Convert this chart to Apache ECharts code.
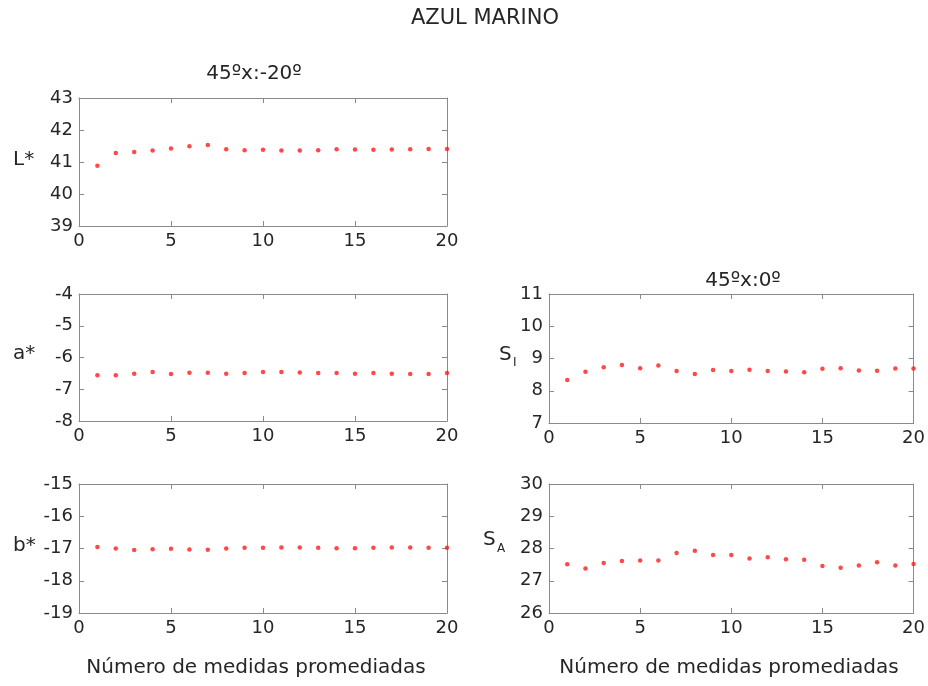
<!DOCTYPE html>
<html>
<head>
<meta charset="utf-8">
<script src="https://cdn.jsdelivr.net/npm/echarts@6/dist/echarts.min.js"></script>
<style>html,body{margin:0;padding:0;background:#fff}#c{width:928px;height:686px}</style>
</head>
<body>
<div id="c"></div>
<script>
const xValues = [1,2,3,4,5,6,7,8,9,10,11,12,13,14,15,16,17,18,19,20];
const Lstar = [40.88,41.28,41.31,41.36,41.42,41.49,41.53,41.40,41.37,41.38,41.36,41.36,41.37,41.40,41.39,41.38,41.39,41.40,41.41,41.41];
const astar = [-6.56,-6.56,-6.51,-6.46,-6.52,-6.48,-6.48,-6.51,-6.49,-6.46,-6.46,-6.47,-6.49,-6.49,-6.51,-6.49,-6.51,-6.52,-6.52,-6.49];
const bstar = [-16.95,-17.00,-17.05,-17.02,-17.01,-17.03,-17.04,-17.00,-16.98,-16.98,-16.97,-16.97,-16.98,-16.99,-16.99,-16.98,-16.97,-16.97,-16.98,-16.98];
const SI = [8.33,8.59,8.73,8.80,8.70,8.78,8.61,8.52,8.64,8.61,8.65,8.61,8.60,8.57,8.68,8.70,8.63,8.62,8.69,8.69];
const SA = [27.51,27.38,27.55,27.61,27.63,27.63,27.86,27.93,27.80,27.80,27.69,27.73,27.67,27.65,27.46,27.40,27.47,27.57,27.47,27.52];
const yRanges = [[39,43],[-8,-4],[-19,-15],[7,11],[26,30]];
const xRange = [0,20];
const xInterval = 5;
const mainTitle = 'AZUL MARINO';
const subTitleLeft = '45ºx:-20º';
const subTitleRight = '45ºx:0º';
const xLabel = 'Número de medidas promediadas';

const FONT = '"DejaVu Sans", sans-serif';
const axisCol = '#8a8a8a';
const txtCol = '#262626';
const seriesData = [Lstar, astar, bstar, SI, SA];
const grids = [
  {left:79, top:98, width:368, height:128},
  {left:79, top:294, width:368, height:127},
  {left:79, top:484, width:368, height:129},
  {left:549, top:294, width:368, height:129},
  {left:549, top:484, width:368, height:129}
];

const xAxes = [], yAxes = [], series = [];
grids.forEach((g, i) => {
  const common = {
    type:'value', gridIndex:i,
    axisLine:{show:true, onZero:false, lineStyle:{color:axisCol, width:1}},
    axisTick:{show:true, inside:true, length:5, lineStyle:{color:axisCol}},
    splitLine:{show:false}
  };
  xAxes.push(Object.assign({}, common, {position:'bottom', min:xRange[0], max:xRange[1], interval:xInterval,
    axisLabel:{show:true, margin:6, color:txtCol, fontSize:18, fontFamily:FONT, showMinLabel:true, showMaxLabel:true}}));
  xAxes.push(Object.assign({}, common, {position:'top', min:xRange[0], max:xRange[1], interval:xInterval,
    axisLabel:{show:false}}));
  yAxes.push(Object.assign({}, common, {position:'left', min:yRanges[i][0], max:yRanges[i][1], interval:1,
    axisLabel:{show:true, margin:6, color:txtCol, fontSize:18, fontFamily:FONT, showMinLabel:true, showMaxLabel:true}}));
  yAxes.push(Object.assign({}, common, {position:'right', min:yRanges[i][0], max:yRanges[i][1], interval:1,
    axisLabel:{show:false}}));
  series.push({
    type:'scatter', xAxisIndex:2*i, yAxisIndex:2*i,
    symbol:'circle', symbolSize:4.5,
    itemStyle:{color:'#ff1a1a'},
    data: xValues.map((x, k) => [x, seriesData[i][k]]),
    silent:true, animation:false
  });
});

function txt(x, y, t, size, align) {
  return {type:'text', x:x, y:y, style:{text:t, fill:txtCol, font:size+'px '+FONT, textAlign:align||'center', textVerticalAlign:'middle'}};
}

const option = {
  backgroundColor:'#ffffff',
  animation:false,
  grid: grids.map(g => Object.assign({containLabel:false}, g)),
  xAxis: xAxes,
  yAxis: yAxes,
  series: series,
  graphic: [
    txt(485, 19, mainTitle, 21),
    txt(254, 74, subTitleLeft, 20),
    txt(743, 281, subTitleRight, 20),
    txt(256, 668, xLabel, 20),
    txt(729, 668, xLabel, 20),
    txt(13, 160, 'L*', 20, 'left'),
    txt(13, 354, 'a*', 20, 'left'),
    txt(13, 546, 'b*', 20, 'left'),
    txt(499, 355, 'S', 20, 'left'),
    txt(513, 363, 'I', 12, 'left'),
    txt(483, 540, 'S', 20, 'left'),
    txt(497, 549, 'A', 12, 'left')
  ]
};
const chart = echarts.init(document.getElementById('c'), null, {renderer:'canvas'});
chart.setOption(option);
</script>
</body>
</html>
